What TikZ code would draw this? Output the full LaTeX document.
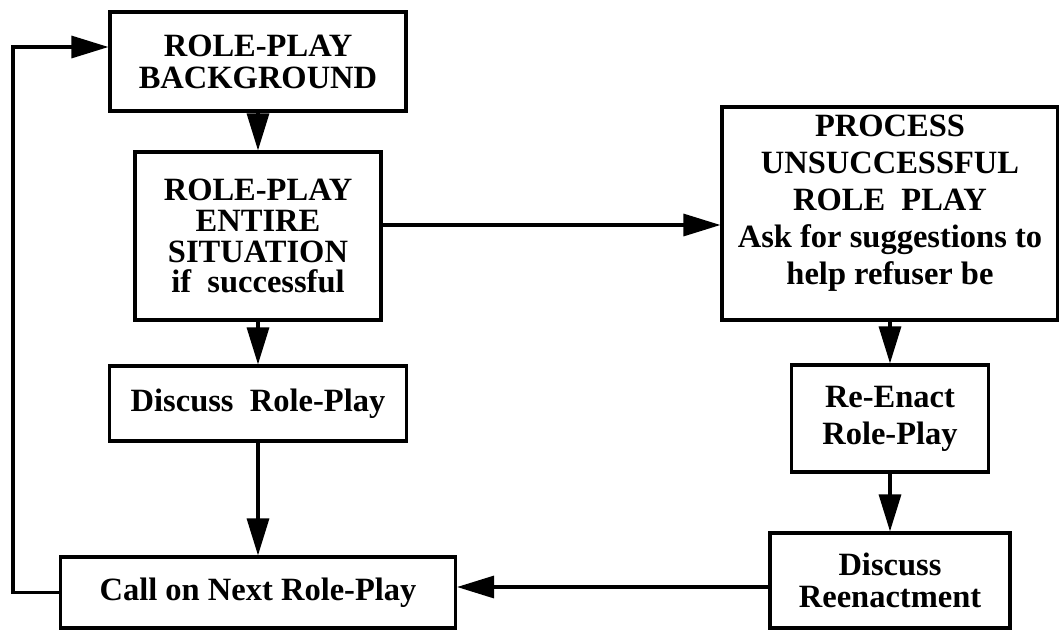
\documentclass[tikz,border=0pt]{standalone}
\usepackage{fontspec}
\setmainfont{Liberation Serif}
\usepackage{tikz}
\usetikzlibrary{arrows.meta,positioning,calc}
\tikzset{
  % flow chart of the role-play session; boxes are plain black frames
  rp/base/.style={
    font=\rmfamily\bfseries\fontsize{18.5pt}{18.2pt}\selectfont,
    line cap=butt,
    line join=miter
  },
  rp/box/.style={
    draw=black,
    line width=1.8pt,
    fill=white,
    align=center,
    inner sep=0pt
  },
  rp/flow/.style={
    -{Triangle[length=7.4mm,width=4.4mm]},
    draw=black,
    line width=1.8pt
  }
}
\begin{document}
\begin{tikzpicture}[
  rp/base,x=.02cm,y=-.02cm,
  box/.style={rp/box},
  flow/.style={rp/flow},
  loose/.style={font=\rmfamily\bfseries\fontsize{18.5pt}{21pt}\selectfont}
]
  \useasboundingbox (0,0) rectangle (1059,630);
  % left column
  \node[box,minimum width=5.92cm,minimum height=1.98cm] (background) at (258,61.5)
    {ROLE-PLAY\\BACKGROUND};
  \node[box,minimum width=4.92cm,minimum height=3.36cm,
    font=\rmfamily\bfseries\fontsize{18.5pt}{17.6pt}\selectfont] (entire) at (258,236)
    {ROLE-PLAY\\ENTIRE\\SITUATION\\if~~successful};
  \node[box,minimum width=5.94cm,minimum height=1.50cm] (discuss) at (258,403.5)
    {Discuss~~Role-Play};
  \node[box,minimum width=7.90cm,minimum height=1.42cm] (nextplay) at (258,592.5)
    {Call on Next Role-Play};
  % right column, text block sits a little above the middle
  \node[box,loose,minimum width=6.72cm,minimum height=4.26cm,text depth=.54cm]
    (process) at (890,213.5)
    {PROCESS\\UNSUCCESSFUL\\ROLE~~PLAY\\Ask for suggestions to\\help refuser be};
  \node[box,loose,minimum width=3.94cm,minimum height=2.14cm] (reenact) at (890,418.5)
    {Re-Enact\\Role-Play};
  \node[box,minimum width=4.80cm,minimum height=1.90cm] (discussre) at (890,580.5)
    {Discuss\\Reenactment};

  \coordinate (sideway) at (550,225);
  \coordinate (backway) at (600,587);
  \coordinate (loopcorner) at (13,47);

  \draw[flow] (background.south)--(entire.north);
  \draw[flow] (entire.south)--(discuss.north);
  \draw[flow] (discuss.south)--(nextplay.north);
  \draw[flow] (entire.east |- sideway)--(process.west |- sideway);
  \draw[flow] (process.south)--(reenact.north);
  \draw[flow] (reenact.south)--(discussre.north);
  \draw[flow] (discussre.west |- backway)--(nextplay.east |- backway);
  % return loop to the start
  \draw[flow] (nextplay.west) -| (loopcorner)--(background.west |- loopcorner);
\end{tikzpicture}
\end{document}
